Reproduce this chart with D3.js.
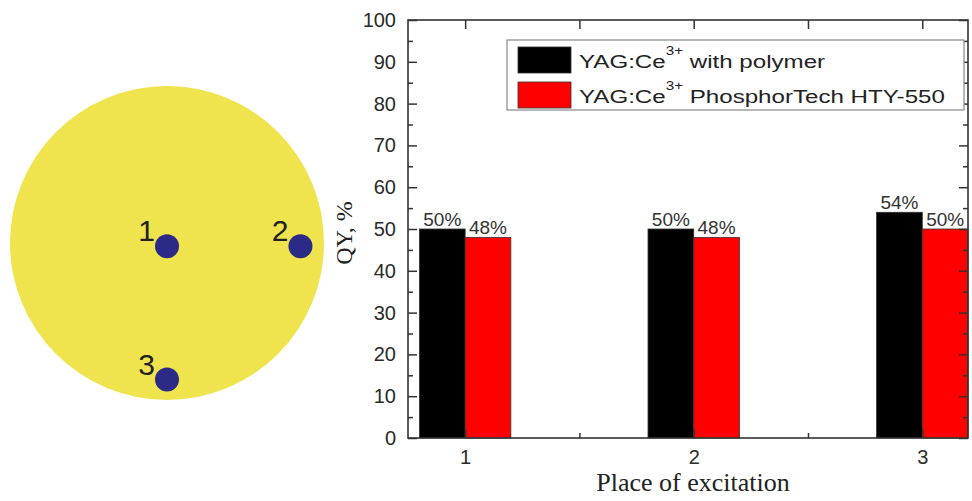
<!DOCTYPE html>
<html>
<head>
<script src="https://cdn.jsdelivr.net/npm/d3@7"></script>
<style>
  body { margin: 0; background: #fff; }
  svg { display: block; }
</style>
</head>
<body>
<svg id="chart" width="972" height="501"></svg>
<script>
// data
var places = [1, 2, 3];
var polymerQY = [50, 50, 54];
var htyQY = [48, 48, 50];
var seriesNames = ["with polymer", "PhosphorTech HTY-550"];
var yTicks = [0, 10, 20, 30, 40, 50, 60, 70, 80, 90, 100];
// excitation spots on the sample, in unit-circle coords
var spotX = [0, 0.85, 0];
var spotY = [0.02, 0.02, 0.87];

var svg = d3.select("#chart");
var sans = "Liberation Sans, Arial, sans-serif";
var serif = "Liberation Serif, Times New Roman, serif";

// ---- sample sketch on the left ----
var cx = 167, cy = 243, r = 157;
var sx = d3.scaleLinear().domain([-1, 1]).range([cx - r, cx + r]);
var sy = d3.scaleLinear().domain([-1, 1]).range([cy - r, cy + r]);

svg.append("circle")
    .attr("cx", cx).attr("cy", cy).attr("r", r)
    .attr("fill", "#f0e44e");

var spots = svg.append("g").selectAll("g")
    .data(places)
  .enter().append("g");

spots.append("circle")
    .attr("cx", function(d, i) { return sx(spotX[i]); })
    .attr("cy", function(d, i) { return sy(spotY[i]); })
    .attr("r", 12)
    .attr("fill", "#2b2a86");

spots.append("text")
    .attr("x", function(d, i) { return sx(spotX[i]) - 12; })
    .attr("y", function(d, i) { return sy(spotY[i]) - 5; })
    .attr("text-anchor", "end")
    .style("font-family", sans)
    .style("font-size", "30px")
    .attr("fill", "#222")
    .text(function(d) { return d; });

// ---- bar chart ----
var plotL = 408, plotR = 968, plotT = 20, plotB = 438;

var x = d3.scaleLinear().domain([0.75, 3.2]).range([plotL, plotR]);
var y = d3.scaleLinear().domain([0, 100]).range([plotB, plotT]);
var barW = 0.2;

var g = svg.append("g");

// black bars
g.selectAll(".b1")
    .data(places)
  .enter().append("rect")
    .attr("x", function(d) { return x(d - barW); })
    .attr("y", function(d, i) { return y(polymerQY[i]); })
    .attr("width", function(d) { return x(d) - x(d - barW); })
    .attr("height", function(d, i) { return y(0) - y(polymerQY[i]); })
    .attr("fill", "#000")
    .attr("stroke", "#333")
    .attr("stroke-width", 0.8);

// red bars
g.selectAll(".b2")
    .data(places)
  .enter().append("rect")
    .attr("x", function(d) { return x(d); })
    .attr("y", function(d, i) { return y(htyQY[i]); })
    .attr("width", function(d) { return Math.min(x(d + barW), plotR) - x(d); })
    .attr("height", function(d, i) { return y(0) - y(htyQY[i]); })
    .attr("fill", "#ff0000")
    .attr("stroke", "#333")
    .attr("stroke-width", 0.8);

// value labels
g.selectAll(".l1")
    .data(places)
  .enter().append("text")
    .attr("x", function(d) { return x(d - barW / 2); })
    .attr("y", function(d, i) { return y(polymerQY[i]) - 3; })
    .attr("text-anchor", "middle")
    .style("font-family", sans)
    .style("font-size", "19px")
    .attr("fill", "#333")
    .text(function(d, i) { return polymerQY[i] + "%"; });

g.selectAll(".l2")
    .data(places)
  .enter().append("text")
    .attr("x", function(d) { return x(d + barW / 2); })
    .attr("y", function(d, i) { return y(htyQY[i]) - 3; })
    .attr("text-anchor", "middle")
    .style("font-family", sans)
    .style("font-size", "19px")
    .attr("fill", "#333")
    .text(function(d, i) { return htyQY[i] + "%"; });

// axes
var axisColor = "#333";
function styleAxis(sel) {
    sel.select(".domain").remove();
    sel.selectAll("line").attr("stroke", axisColor).attr("stroke-width", 1.5);
    sel.selectAll("text").style("font-family", sans).style("font-size", "20px").attr("fill", "#2a2a2a");
}

var minorY = d3.range(5, 100, 10);
var xMajor = places;
var xMinor = [1.5, 2.5];

svg.append("g")
    .attr("transform", "translate(" + plotL + ",0)")
    .call(d3.axisLeft(y).tickValues(yTicks).tickSize(-9).tickPadding(12))
    .call(styleAxis);
svg.append("g")
    .attr("transform", "translate(" + plotL + ",0)")
    .call(d3.axisLeft(y).tickValues(minorY).tickSize(-5).tickFormat(""))
    .call(styleAxis);
svg.append("g")
    .attr("transform", "translate(" + plotR + ",0)")
    .call(d3.axisRight(y).tickValues(yTicks).tickSize(-9).tickFormat(""))
    .call(styleAxis);
svg.append("g")
    .attr("transform", "translate(" + plotR + ",0)")
    .call(d3.axisRight(y).tickValues(minorY).tickSize(-5).tickFormat(""))
    .call(styleAxis);
svg.append("g")
    .attr("transform", "translate(0," + plotB + ")")
    .call(d3.axisBottom(x).tickValues(xMajor).tickSize(-9).tickPadding(12).tickFormat(d3.format("d")))
    .call(styleAxis);
svg.append("g")
    .attr("transform", "translate(0," + plotB + ")")
    .call(d3.axisBottom(x).tickValues(xMinor).tickSize(-5).tickFormat(""))
    .call(styleAxis);
svg.append("g")
    .attr("transform", "translate(0," + plotT + ")")
    .call(d3.axisTop(x).tickValues(xMajor.concat(xMinor)).tickSize(-9).tickFormat(""))
    .call(styleAxis);

// frame
svg.append("rect")
    .attr("x", plotL).attr("y", plotT)
    .attr("width", plotR - plotL).attr("height", plotB - plotT)
    .attr("fill", "none")
    .attr("stroke", axisColor)
    .attr("stroke-width", 1.6);

// axis titles
svg.append("text")
    .attr("x", 693)
    .attr("y", 491)
    .attr("text-anchor", "middle")
    .style("font-family", serif)
    .style("font-size", "26px")
    .attr("fill", "#222")
    .text("Place of excitation");

svg.append("text")
    .attr("transform", "translate(352,233) rotate(-90)")
    .attr("text-anchor", "middle")
    .style("font-family", serif)
    .style("font-size", "24px")
    .attr("fill", "#222")
    .text("QY, %");

// legend
var legend = svg.append("g");
legend.append("rect")
    .attr("x", 507).attr("y", 40)
    .attr("width", 457).attr("height", 70)
    .attr("fill", "#fff")
    .attr("stroke", "#888")
    .attr("stroke-width", 1.2);

var legendColors = ["#000", "#ff0000"];
var items = legend.selectAll(".item")
    .data(seriesNames)
  .enter().append("g")
    .attr("transform", function(d, i) { return "translate(0," + (i * 35) + ")"; });

items.append("rect")
    .attr("x", 518).attr("y", 47)
    .attr("width", 53).attr("height", 26)
    .attr("fill", function(d, i) { return legendColors[i]; })
    .attr("stroke", "#333")
    .attr("stroke-width", 0.8);

var lt = items.append("text")
    .attr("transform", "translate(579,68) scale(1.27,1)")
    .style("font-family", sans)
    .style("font-size", "19px")
    .attr("fill", "#222");
lt.append("tspan").text("YAG:Ce");
lt.append("tspan").attr("dy", -13).style("font-size", "12px").text("3+");
lt.append("tspan").attr("dy", 13).text(function(d) { return " " + d; });
</script>
</body>
</html>
